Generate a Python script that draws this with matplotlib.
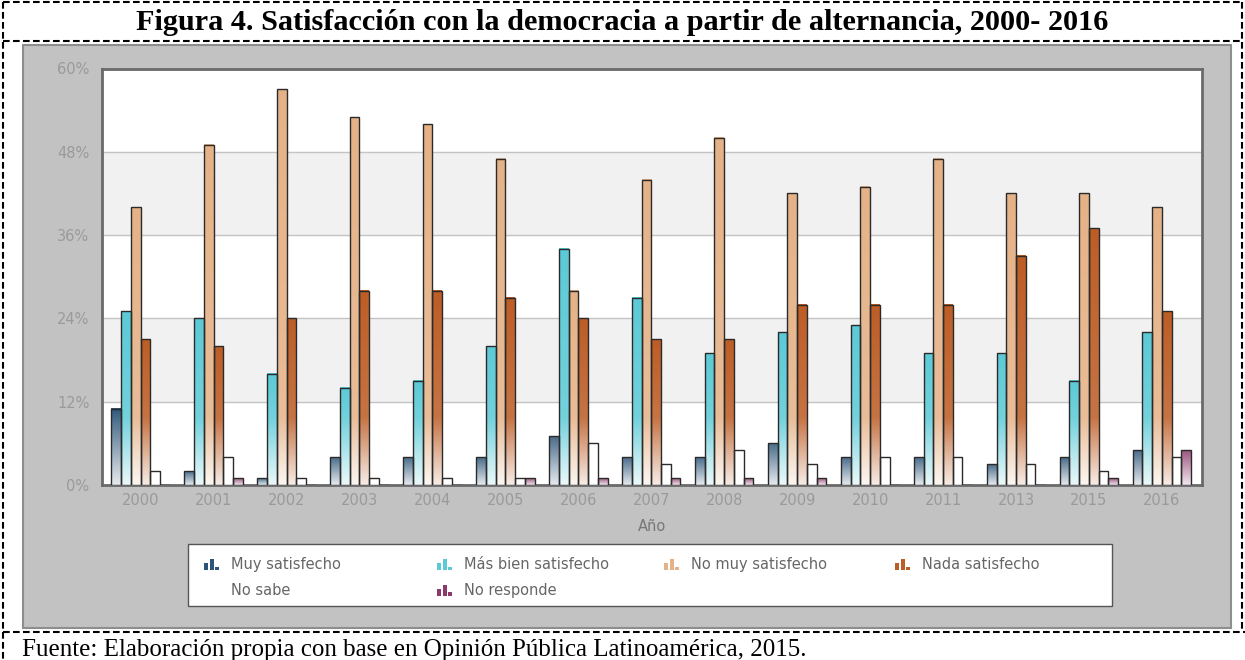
import matplotlib
matplotlib.use('Agg')
import matplotlib.pyplot as plt
import numpy as np
from matplotlib.lines import Line2D
from matplotlib.patches import Rectangle
from matplotlib.legend_handler import HandlerBase
from matplotlib.colors import to_rgb

years = ['2000', '2001', '2002', '2003', '2004', '2005', '2006', '2007',
         '2008', '2009', '2010', '2011', '2013', '2015', '2016']
muy_satisfecho = [11, 2, 1, 4, 4, 4, 7, 4, 4, 6, 4, 4, 3, 4, 5]
mas_bien_satisfecho = [25, 24, 16, 14, 15, 20, 34, 27, 19, 22, 23, 19, 19, 15, 22]
no_muy_satisfecho = [40, 49, 57, 53, 52, 47, 28, 44, 50, 42, 43, 47, 42, 42, 40]
nada_satisfecho = [21, 20, 24, 28, 28, 27, 24, 21, 21, 26, 26, 26, 33, 37, 25]
no_sabe = [2, 4, 1, 1, 1, 1, 6, 3, 5, 3, 4, 4, 3, 2, 4]
no_responde = [0, 1, 0, 0, 0, 1, 1, 1, 1, 1, 0, 0, 0, 1, 5]

series = [
    ('Muy satisfecho', muy_satisfecho, '#2c5478'),
    ('Más bien satisfecho', mas_bien_satisfecho, '#5ccad6'),
    ('No muy satisfecho', no_muy_satisfecho, '#e5b287'),
    ('Nada satisfecho', nada_satisfecho, '#bd5d26'),
    ('No sabe', no_sabe, '#ffffff'),
    ('No responde', no_responde, '#8c3a6c'),
]

W, H = 1245, 660
fig = plt.figure(figsize=(W / 100, H / 100), dpi=100)
fig.patch.set_facecolor('white')


def fx(x):
    return x / W


def fy(y):
    return 1 - y / H


# gray chart panel
fig.patches.append(Rectangle((fx(23), fy(628)), fx(1231) - fx(23), fy(45) - fy(628),
                             transform=fig.transFigure, facecolor='#c2c2c2',
                             edgecolor='#8e8e8e', linewidth=1.5, zorder=-2))

# dashed table borders
dash = dict(color='black', linewidth=1.5, linestyle=(0, (3.2, 1.6)), transform=fig.transFigure)
for (x0, y0, x1, y1) in [(3, 2, 1242, 2), (3, 41, 1242, 41), (3, 632, 1245, 632),
                         (3, 2, 3, 660), (1242, 2, 1242, 632)]:
    fig.lines.append(Line2D([fx(x0), fx(x1)], [fy(y0), fy(y1)], **dash))

fig.text(fx(622), fy(22), 'Figura 4. Satisfacción con la democracia a partir de alternancia, 2000- 2016',
         ha='center', va='center', family='Liberation Serif', weight='bold', fontsize=21.8)
fig.text(fx(22), fy(656), 'Fuente: Elaboración propia con base en Opinión Pública Latinoamérica, 2015.',
         ha='left', va='baseline', family='Liberation Serif', fontsize=18)

ax = fig.add_axes([fx(102), fy(485), fx(1202) - fx(102), fy(68.5) - fy(485)])
ax.set_zorder(1)
ax.set_facecolor('white')

# faint bands between gridlines
for lo in (12, 36):
    ax.axhspan(lo, lo + 12, color='#f1f1f1', zorder=0)

x = np.arange(len(years))
n = len(series)
width = 0.8 / n
fade_top = 9.6


def gradient(color, h):
    c = np.array(to_rgb(color))
    white = np.ones(3)
    ys = np.linspace(0, h, 120)
    top = min(h, fade_top)
    rows = []
    for y in ys:
        if y <= top:
            t = y / top if top > 0 else 1
            k = 0.12 + 0.74 * t
        else:
            k = 0.86 + 0.14 * (y - fade_top) / max(h - fade_top, 1e-6)
        rows.append(white * (1 - k) + c * k)
    return np.array(rows).reshape(-1, 1, 3)


for i, (label, vals, color) in enumerate(series):
    pos = x + (i - (n - 1) / 2) * width
    bars = ax.bar(pos, vals, width, facecolor='none', edgecolor='#2a2a2a',
                  linewidth=1.0, zorder=4, label=label)
    for p in bars.patches:
        h = p.get_height()
        if h <= 0:
            continue
        ax.imshow(gradient(color, h), extent=[p.get_x(), p.get_x() + p.get_width(), 0, h],
                  origin='lower', aspect='auto', interpolation='bilinear', zorder=3)

ax.set_xlim(-0.53, len(years) - 1 + 0.55)
ax.set_ylim(0, 60)
ax.set_yticks([0, 12, 24, 36, 48, 60])
ax.set_yticklabels(['0%', '12%', '24%', '36%', '48%', '60%'])
ax.set_xticks(x)
ax.set_xticklabels(years)
ax.grid(axis='y', color='#c4c4c4', linewidth=1.0, zorder=1)
ax.set_axisbelow(True)
ax.tick_params(length=0, colors='#9a9a9a', labelsize=10.5)
ax.tick_params(axis='x', pad=6)
ax.tick_params(axis='y', pad=9)
for s in ax.spines.values():
    s.set_color('#6a6a6a')
    s.set_linewidth(2)
ax.set_xlabel('Año', color='#777777', fontsize=10.5, labelpad=8)


class BarIcon(HandlerBase):
    def create_artists(self, legend, orig_handle, xdescent, ydescent, width, height, fontsize, trans):
        fc = orig_handle.get_facecolor()
        arts = []
        bw = width / 4.5
        for j, hf in enumerate([0.6, 1.0, 0.3]):
            r = Rectangle((-xdescent + j * (bw + 1), -ydescent), bw, height * hf,
                          facecolor=fc, edgecolor='none', transform=trans)
            arts.append(r)
        return arts


# legend frame
fig.patches.append(Rectangle((fx(188), fy(606)), fx(1112) - fx(188), fy(544) - fy(606),
                             transform=fig.transFigure, facecolor='white',
                             edgecolor='#555555', linewidth=1.0, zorder=-1))

handles = [Rectangle((0, 0), 1, 1, facecolor=c) for _, _, c in series]
labels = [s[0] for s in series]
columns = [[0, 4], [1, 5], [2], [3]]
col_x = [200, 433, 660, 891]
for cx, idx in zip(col_x, columns):
    leg = fig.legend([handles[k] for k in idx], [labels[k] for k in idx],
                     handler_map={Rectangle: BarIcon()}, ncol=1,
                     loc='upper left', bbox_to_anchor=(fx(cx), fy(553)),
                     fontsize=10.5, frameon=False,
                     handlelength=1.2, handleheight=0.8, handletextpad=0.6,
                     labelspacing=0.75, borderaxespad=0, borderpad=0.3)
    for t in leg.get_texts():
        t.set_color('#666666')

fig.savefig('out.png', dpi=100)
